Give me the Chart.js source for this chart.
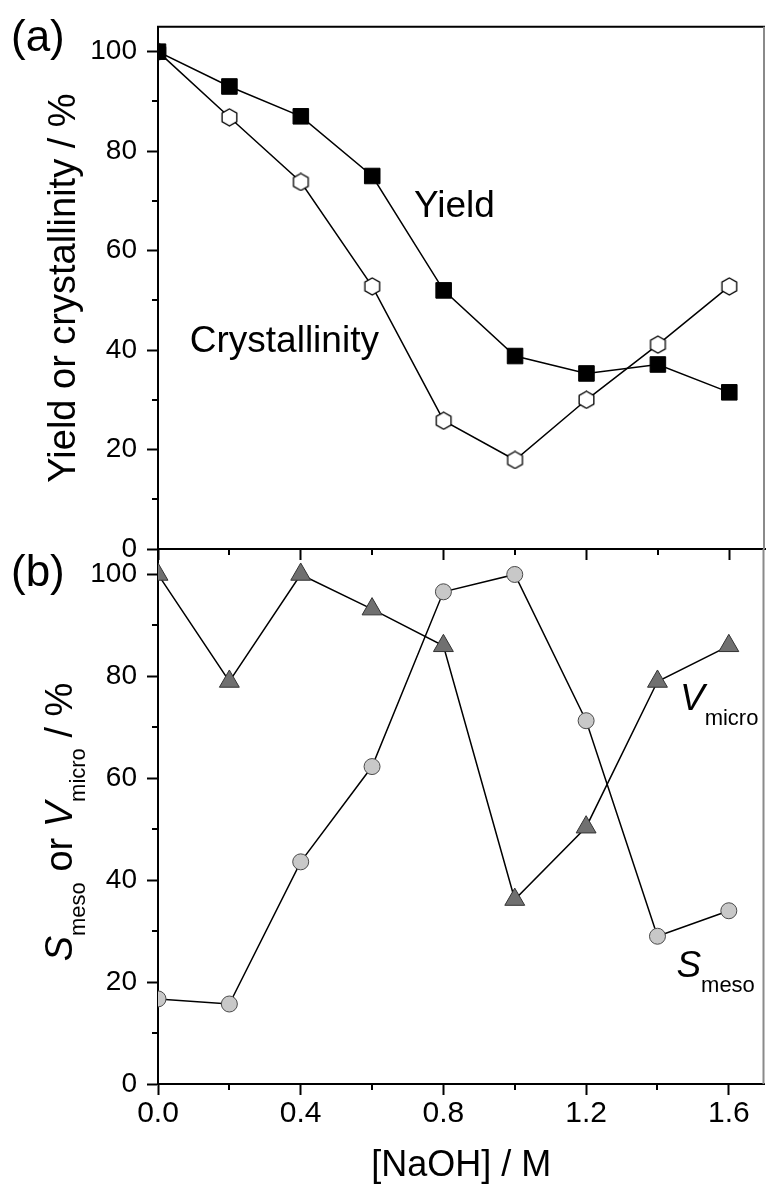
<!DOCTYPE html>
<html>
<head>
<meta charset="utf-8">
<script src="https://cdn.jsdelivr.net/npm/chart.js@4.4.1/dist/chart.umd.min.js"></script>
<style>
  html, body { margin: 0; padding: 0; background: #fff; }
  #wrap { position: relative; width: 777px; height: 1186px; }
  #wrap canvas { position: absolute; left: 0; top: 0; }
</style>
</head>
<body>
<div id="wrap">
  <canvas id="chartA" width="777" height="1186"></canvas>
  <canvas id="chartB" width="777" height="1186"></canvas>
</div>
<script>
// data
const naoh = [0, 0.2, 0.4, 0.6, 0.8, 1.0, 1.2, 1.4, 1.6];
const yieldPct = [100, 93, 87, 75, 52, 38.8, 35.3, 37.1, 31.5];
const crystPct = [100, 86.8, 73.8, 52.8, 25.8, 17.9, 30, 41.1, 52.8];
const vmicroPct = [100, 79, 100, 93.2, 86, 36.2, 50.4, 79, 86];
const smesoPct = [16.7, 15.7, 43.6, 62.3, 96.6, 100, 71.3, 29, 34];

const xTicks = [0, 0.4, 0.8, 1.2, 1.6];
const xMinorTicks = [0.2, 0.6, 1.0, 1.4];
const yTicks = [0, 20, 40, 60, 80, 100];
const yMinorTicks = [10, 30, 50, 70, 90];

const fam = '"Liberation Sans", Arial, sans-serif';

function pts(ys) {
  return naoh.map((x, i) => ({ x: x, y: ys[i] }));
}

function makeHexagon(size) {
  const c = document.createElement('canvas');
  c.width = size; c.height = size;
  const g = c.getContext('2d');
  const r = size / 2 - 1;
  g.beginPath();
  for (let i = 0; i < 6; i++) {
    const a = -Math.PI / 2 + i * Math.PI / 3;
    const px = size / 2 + r * Math.cos(a), py = size / 2 + r * Math.sin(a);
    if (i === 0) g.moveTo(px, py); else g.lineTo(px, py);
  }
  g.closePath();
  g.fillStyle = '#fff';
  g.fill();
  g.lineWidth = 1.3;
  g.strokeStyle = '#000';
  g.stroke();
  return c;
}

function setFont(ctx, p, size, subSize) {
  ctx.font = (p.italic ? 'italic ' : '') + (p.sub ? subSize : size) + 'px ' + fam;
}
function partsWidth(ctx, parts, size, subSize) {
  let w = 0;
  for (const p of parts) { setFont(ctx, p, size, subSize); w += ctx.measureText(p.text).width; }
  return w;
}
function drawParts(ctx, parts, x, y, size, subSize, subShift) {
  let cx = x;
  for (const p of parts) {
    setFont(ctx, p, size, subSize);
    ctx.fillText(p.text, cx, y + (p.sub ? subShift : 0));
    cx += ctx.measureText(p.text).width;
  }
}

// extra drawing: minor ticks, frame lines, titles, labels in the plot
const panelText = {
  id: 'panelText',
  afterDraw(chart, args, o) {
    const ctx = chart.ctx, a = chart.chartArea;
    const xs = chart.scales.x, ys = chart.scales.y;
    ctx.save();
    ctx.strokeStyle = '#000';
    ctx.lineWidth = 2;
    ctx.beginPath();
    xMinorTicks.forEach(v => {
      const px = Math.round(xs.getPixelForValue(v));
      ctx.moveTo(px, a.bottom); ctx.lineTo(px, a.bottom + 6);
    });
    yMinorTicks.forEach(v => {
      const py = Math.round(ys.getPixelForValue(v));
      ctx.moveTo(a.left, py); ctx.lineTo(a.left - 6, py);
    });
    if (o.frameTop) { ctx.moveTo(a.left - 1, a.top); ctx.lineTo(a.right, a.top); }
    ctx.stroke();
    ctx.strokeStyle = '#8a8a8a';
    ctx.beginPath();
    ctx.moveTo(a.right - 1, a.top); ctx.lineTo(a.right - 1, a.bottom);
    ctx.stroke();

    ctx.fillStyle = '#000';
    ctx.textBaseline = 'alphabetic';
    ctx.textAlign = 'left';
    (o.notes || []).forEach(n => {
      drawParts(ctx, n.parts, xs.getPixelForValue(n.x), ys.getPixelForValue(n.y), 37, 22, n.subShift || 0);
    });
    if (o.panel) {
      ctx.font = '44px ' + fam;
      ctx.fillText(o.panel.text, o.panel.x, o.panel.y);
    }
    if (o.yTitle) {
      const t = o.yTitle;
      ctx.save();
      ctx.translate(t.x, t.y);
      ctx.rotate(-Math.PI / 2);
      const w = partsWidth(ctx, t.parts, 38, 22);
      drawParts(ctx, t.parts, -w / 2, 0, 38, 22, 13);
      ctx.restore();
    }
    if (o.xTitle) {
      const t = o.xTitle;
      const w = partsWidth(ctx, t.parts, 36, 22);
      drawParts(ctx, t.parts, (a.left + a.right) / 2 - w / 2, t.y, 36, 22, 0);
    }
    ctx.restore();
  }
};

function scaleX(showLabels, h) {
  return {
    type: 'linear', min: 0, max: 1.7,
    afterBuildTicks: s => { s.ticks = xTicks.map(v => ({ value: v })); },
    afterFit: s => { s.height = h; },
    grid: { display: true, drawOnChartArea: false, drawTicks: true, tickLength: 11, tickWidth: 2, tickColor: '#000' },
    border: { display: true, width: 2, color: '#000' },
    ticks: {
      autoSkip: false, maxRotation: 0, padding: 1, color: '#000',
      font: { family: fam, size: 30 },
      callback: v => showLabels ? v.toFixed(1) : ''
    }
  };
}

function scaleY() {
  return {
    type: 'linear', min: 0, max: 105,
    afterBuildTicks: s => { s.ticks = yTicks.map(v => ({ value: v })); },
    afterFit: s => { s.width = 158; },
    grid: { display: true, drawOnChartArea: false, drawTicks: true, tickLength: 11, tickWidth: 2, tickColor: '#000' },
    border: { display: true, width: 2, color: '#000' },
    ticks: { padding: 10, color: '#000', font: { family: fam, size: 28 }, callback: v => String(v) }
  };
}

const common = {
  responsive: false,
  animation: false,
  events: [],
  plugins: { legend: { display: false }, tooltip: { enabled: false } }
};

const hex = makeHexagon(19);

new Chart(document.getElementById('chartA'), {
  type: 'line',
  data: {
    datasets: [
      { label: 'Yield', data: pts(yieldPct), borderColor: '#000', borderWidth: 1.5,
        pointStyle: 'rect', pointRadius: 11, backgroundColor: '#000', pointBorderColor: '#000', pointBorderWidth: 1 },
      { label: 'Crystallinity', data: pts(crystPct), borderColor: '#000', borderWidth: 1.5,
        pointStyle: hex, pointRadius: 9 }
    ]
  },
  options: Object.assign({}, common, {
    layout: { padding: { left: 0, right: 1, top: 14, bottom: 617 } },
    scales: { x: scaleX(false, 20), y: scaleY() },
    plugins: Object.assign({}, common.plugins, {
      panelText: {
        frameTop: true,
        panel: { text: '(a)', x: 11, y: 51 },
        notes: [
          { x: 0.717, y: 66.7, parts: [{ text: 'Yield' }] },
          { x: 0.089, y: 39.6, parts: [{ text: 'Crystallinity' }] }
        ],
        yTitle: { x: 75, y: 288, parts: [{ text: 'Yield or crystallinity / %' }] }
      }
    })
  }),
  plugins: [panelText]
});

new Chart(document.getElementById('chartB'), {
  type: 'line',
  data: {
    datasets: [
      { label: 'Vmicro', data: pts(vmicroPct), borderColor: '#000', borderWidth: 1.5,
        pointStyle: 'triangle', pointRadius: 11.5, backgroundColor: '#707070', pointBorderColor: '#333', pointBorderWidth: 1 },
      { label: 'Smeso', data: pts(smesoPct), borderColor: '#000', borderWidth: 1.5,
        pointStyle: 'circle', pointRadius: 8, backgroundColor: '#c8c8c8', pointBorderColor: '#4a4a4a', pointBorderWidth: 1 }
    ]
  },
  options: Object.assign({}, common, {
    layout: { padding: { left: 0, right: 1, top: 549, bottom: 0 } },
    scales: { x: scaleX(true, 102), y: scaleY() },
    plugins: Object.assign({}, common.plugins, {
      panelText: {
        panel: { text: '(b)', x: 11, y: 586 },
        notes: [
          { x: 1.463, y: 73.4, subShift: 15, parts: [{ text: 'V', italic: true }, { text: 'micro', sub: true }] },
          { x: 1.453, y: 21, subShift: 15, parts: [{ text: 'S', italic: true }, { text: 'meso', sub: true }] }
        ],
        yTitle: { x: 72, y: 822, parts: [
          { text: 'S', italic: true }, { text: 'meso', sub: true }, { text: ' or ' },
          { text: 'V', italic: true }, { text: 'micro', sub: true }, { text: ' / %' }
        ] },
        xTitle: { y: 1176, parts: [{ text: '[NaOH] / M' }] }
      }
    })
  }),
  plugins: [panelText]
});
</script>
</body>
</html>
